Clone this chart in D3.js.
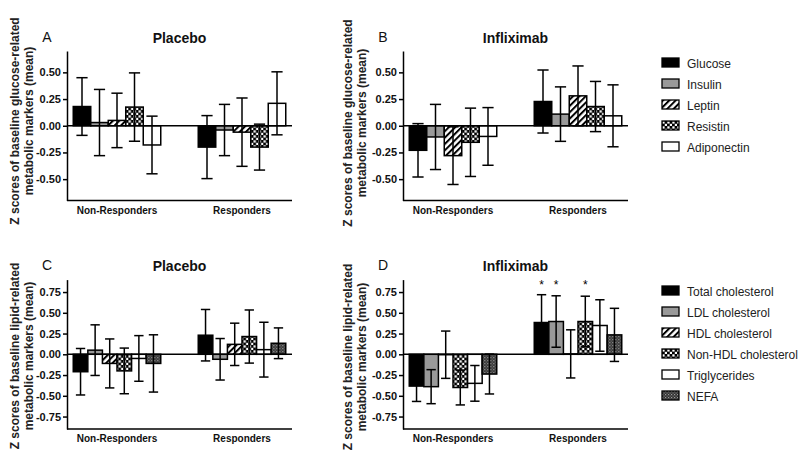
<!DOCTYPE html>
<html>
<head>
<meta charset="utf-8">
<script src="https://cdn.jsdelivr.net/npm/d3@7"></script>
<style>
  html, body { margin: 0; padding: 0; background: #fff; }
  svg { display: block; font-family: "Liberation Sans", Arial, sans-serif; }
</style>
</head>
<body>
<svg id="chart" width="800" height="451"></svg>
<script>
// ---------- data ----------
const groups = ["Non-Responders", "Responders"];
const glucoseSeries = ["Glucose", "Insulin", "Leptin", "Resistin", "Adiponectin"];
const lipidSeries = ["Total cholesterol", "LDL cholesterol", "HDL cholesterol", "Non-HDL cholesterol", "Triglycerides", "NEFA"];

const glucoseTicks = [-0.5, -0.25, 0, 0.25, 0.5];
const lipidTicks = [-0.75, -0.5, -0.25, 0, 0.25, 0.5, 0.75];

// Panel A: Placebo, glucose-related
const aMeanNR = [0.18, 0.03, 0.05, 0.175, -0.18];
const aErrNR  = [0.27, 0.31, 0.255, 0.32, 0.27];
const aMeanR  = [-0.20, -0.04, -0.06, -0.20, 0.21];
const aErrR   = [0.295, 0.24, 0.32, 0.215, 0.295];

// Panel B: Infliximab, glucose-related
const bMeanNR = [-0.23, -0.105, -0.28, -0.155, -0.10];
const bErrNR  = [0.25, 0.305, 0.27, 0.32, 0.27];
const bMeanR  = [0.227, 0.109, 0.28, 0.18, 0.093];
const bErrR   = [0.295, 0.255, 0.28, 0.235, 0.29];

// Panel C: Placebo, lipid-related
const cMeanNR = [-0.21, 0.05, -0.11, -0.20, -0.05, -0.11];
const cErrNR  = [0.28, 0.305, 0.295, 0.275, 0.275, 0.345];
const cMeanR  = [0.23, -0.06, 0.12, 0.214, 0.056, 0.133];
const cErrR   = [0.31, 0.25, 0.255, 0.32, 0.33, 0.185];

// Panel D: Infliximab, lipid-related
const dMeanNR = [-0.383, -0.39, -0.005, -0.40, -0.35, -0.238];
const dErrNR  = [0.185, 0.205, 0.285, 0.21, 0.215, 0.24];
const dMeanR  = [0.383, 0.395, 0.005, 0.395, 0.347, 0.234];
const dErrR   = [0.335, 0.31, 0.29, 0.305, 0.31, 0.32];
const dSigR   = [true, true, false, true, false, false];

// ---------- setup ----------
const svg = d3.select("#chart");
const FONT = '"Liberation Sans", Arial, sans-serif';
const defs = svg.append("defs");

// hatch "/"
const hatch = defs.append("pattern").attr("id", "hatch").attr("patternUnits", "userSpaceOnUse")
  .attr("width", 4.5).attr("height", 4.5).attr("patternTransform", "rotate(45)");
hatch.append("rect").attr("width", 4.5).attr("height", 4.5).attr("fill", "#fff");
hatch.append("line").attr("x1", 1).attr("y1", 0).attr("x2", 1).attr("y2", 4.5)
  .attr("stroke", "#000").attr("stroke-width", 2);

// checker
const checker = defs.append("pattern").attr("id", "checker").attr("patternUnits", "userSpaceOnUse")
  .attr("width", 5).attr("height", 5);
checker.append("rect").attr("width", 5).attr("height", 5).attr("fill", "#000");
checker.append("rect").attr("x", 0.3).attr("y", 0.3).attr("width", 2.3).attr("height", 2.3).attr("fill", "#fff");
checker.append("rect").attr("x", 2.8).attr("y", 2.8).attr("width", 2.3).attr("height", 2.3).attr("fill", "#fff");

// NEFA dense pattern
const nefa = defs.append("pattern").attr("id", "nefa").attr("patternUnits", "userSpaceOnUse")
  .attr("width", 3).attr("height", 3);
nefa.append("rect").attr("width", 3).attr("height", 3).attr("fill", "#333");
nefa.append("rect").attr("x", 0).attr("y", 0).attr("width", 1.2).attr("height", 1.2).attr("fill", "#999");
nefa.append("rect").attr("x", 1.5).attr("y", 1.5).attr("width", 1.2).attr("height", 1.2).attr("fill", "#777");

const glucoseFills = ["#000", "#999", "url(#hatch)", "url(#checker)", "#fff"];
const lipidFills = ["#000", "#999", "url(#hatch)", "url(#checker)", "#fff", "url(#nefa)"];

const panels = [
  { letter: "A", title: "Placebo", x: 67, yRange: [200.5, 51], domain: [-0.7, 0.7], ticks: glucoseTicks,
    series: glucoseSeries, fills: glucoseFills, means: [aMeanNR, aMeanR], errs: [aErrNR, aErrR],
    ylabel: ["Z scores of baseline glucose-related", "metabolic markers (mean)"], labelX: [19, 32.5], labelY: 121,
    titleY: 42.5, catY: 214 },
  { letter: "B", title: "Infliximab", x: 403, yRange: [200.5, 51], domain: [-0.7, 0.7], ticks: glucoseTicks,
    series: glucoseSeries, fills: glucoseFills, means: [bMeanNR, bMeanR], errs: [bErrNR, bErrR],
    ylabel: ["Z scores of baseline glucose-related", "metabolic markers (mean)"], labelX: [352, 365.5], labelY: 123,
    titleY: 42.5, catY: 214 },
  { letter: "C", title: "Placebo", x: 67, yRange: [429, 279.6], domain: [-0.9, 0.9], ticks: lipidTicks,
    series: lipidSeries, fills: lipidFills, means: [cMeanNR, cMeanR], errs: [cErrNR, cErrR],
    ylabel: ["Z scores of baseline lipid-related", "metabolic markers (mean)"], labelX: [19, 32.5], labelY: 356,
    titleY: 270.5, catY: 442 },
  { letter: "D", title: "Infliximab", x: 403, yRange: [429, 279.6], domain: [-0.9, 0.9], ticks: lipidTicks,
    series: lipidSeries, fills: lipidFills, means: [dMeanNR, dMeanR], errs: [dErrNR, dErrR],
    sig: [null, dSigR],
    ylabel: ["Z scores of baseline lipid-related", "metabolic markers (mean)"], labelX: [352, 365.5], labelY: 357,
    titleY: 270.5, catY: 442 }
];

const W = 225;

panels.forEach(p => {
  const g = svg.append("g");
  const y = d3.scaleLinear().domain(p.domain).range(p.yRange);
  const x0 = d3.scaleBand().domain(groups).range([p.x, p.x + W]).paddingInner(0.3).paddingOuter(0.05);
  const x1 = d3.scaleBand().domain(p.series).range([0, x0.bandwidth()]);

  // bars
  groups.forEach((grp, gi) => {
    const gg = g.append("g").attr("transform", `translate(${x0(grp)},0)`);
    const rows = p.series.map((s, i) => ({ s, i, m: p.means[gi][i], e: p.errs[gi][i],
      sig: p.sig && p.sig[gi] ? p.sig[gi][i] : false }));
    gg.selectAll("rect.bar").data(rows).join("rect").attr("class", "bar")
      .attr("x", d => x1(d.s))
      .attr("width", x1.bandwidth())
      .attr("y", d => Math.min(y(d.m), y(0)))
      .attr("height", d => Math.abs(y(d.m) - y(0)))
      .attr("fill", d => p.fills[d.i])
      .attr("stroke", "#000").attr("stroke-width", 1.5);
    const cap = x1.bandwidth() * 0.32;
    const eb = gg.selectAll("g.err").data(rows).join("g").attr("class", "err")
      .attr("stroke", "#000").attr("stroke-width", 1.5);
    eb.append("line")
      .attr("x1", d => x1(d.s) + x1.bandwidth() / 2).attr("x2", d => x1(d.s) + x1.bandwidth() / 2)
      .attr("y1", d => y(d.m - d.e)).attr("y2", d => y(d.m + d.e));
    eb.append("line")
      .attr("x1", d => x1(d.s) + x1.bandwidth() / 2 - cap).attr("x2", d => x1(d.s) + x1.bandwidth() / 2 + cap)
      .attr("y1", d => y(d.m + d.e)).attr("y2", d => y(d.m + d.e));
    eb.append("line")
      .attr("x1", d => x1(d.s) + x1.bandwidth() / 2 - cap).attr("x2", d => x1(d.s) + x1.bandwidth() / 2 + cap)
      .attr("y1", d => y(d.m - d.e)).attr("y2", d => y(d.m - d.e));
    gg.selectAll("text.sig").data(rows.filter(d => d.sig)).join("text").attr("class", "sig")
      .attr("x", d => x1(d.s) + x1.bandwidth() / 2)
      .attr("y", p.yRange[1] + 9.5)
      .attr("text-anchor", "middle").attr("font-size", 12).attr("font-family", FONT)
      .text("*");
  });

  // zero line and bottom line
  g.append("line").attr("x1", p.x).attr("x2", p.x + W).attr("y1", y(0)).attr("y2", y(0))
    .attr("stroke", "#000").attr("stroke-width", 1.5);
  g.append("line").attr("x1", p.x).attr("x2", p.x + W).attr("y1", p.yRange[0]).attr("y2", p.yRange[0])
    .attr("stroke", "#000").attr("stroke-width", 1.5);

  // y axis
  const ax = g.append("g").attr("transform", `translate(${p.x},0)`)
    .call(d3.axisLeft(y).tickValues(p.ticks).tickSize(4).tickSizeOuter(0).tickPadding(2)
      .tickFormat(d => d.toFixed(2)));
  ax.select(".domain").attr("stroke-width", 1.5);
  ax.selectAll(".tick line").attr("stroke-width", 1.5);
  ax.selectAll(".tick text").attr("font-size", 11).attr("font-weight", "bold")
    .attr("font-family", FONT).attr("fill", "#111");

  // category labels
  g.selectAll("text.cat").data(groups).join("text").attr("class", "cat")
    .attr("x", d => x0(d) + x0.bandwidth() / 2).attr("y", p.catY)
    .attr("text-anchor", "middle").attr("font-size", 10).attr("font-weight", "bold")
    .attr("font-family", FONT).attr("fill", "#111").text(d => d);

  // title and letter
  g.append("text").attr("x", p.x + W / 2).attr("y", p.titleY).attr("text-anchor", "middle")
    .attr("font-size", 14).attr("font-weight", "bold").attr("font-family", FONT).attr("fill", "#111")
    .text(p.title);
  g.append("text").attr("x", p.x - 20).attr("y", p.titleY - 1).attr("text-anchor", "middle")
    .attr("font-size", 14).attr("font-family", FONT).attr("fill", "#111").text(p.letter);

  // y label
  p.ylabel.forEach((t, i) => {
    g.append("text").attr("transform", `translate(${p.labelX[i]},${p.labelY}) rotate(-90)`)
      .attr("text-anchor", "middle").attr("font-size", 12).attr("font-weight", "bold")
      .attr("font-family", FONT).attr("fill", "#222").text(t);
  });
});

// legends
function legend(series, fills, top) {
  const lg = svg.append("g");
  const items = lg.selectAll("g").data(series).join("g")
    .attr("transform", (d, i) => `translate(662,${top + i * 21})`);
  items.append("rect").attr("width", 17).attr("height", 9)
    .attr("fill", (d, i) => fills[i]).attr("stroke", "#000").attr("stroke-width", 1.3);
  items.append("text").attr("x", 25).attr("y", 9.5).attr("font-size", 12)
    .attr("font-family", FONT).attr("fill", "#222").text(d => d);
}
legend(glucoseSeries, glucoseFills, 58);
legend(lipidSeries, lipidFills, 286);
</script>
</body>
</html>
